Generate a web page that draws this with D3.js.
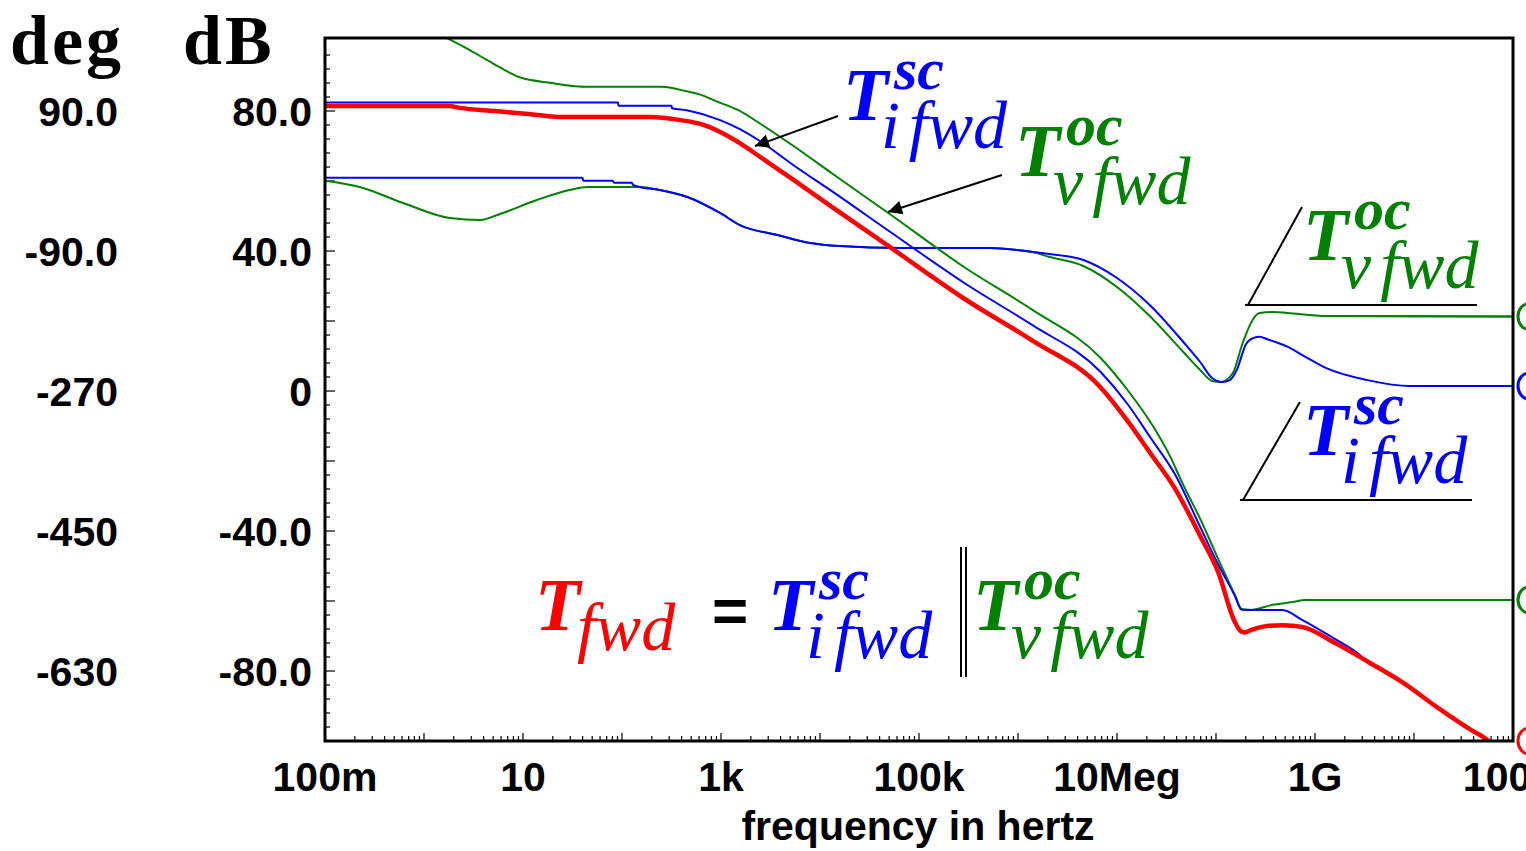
<!DOCTYPE html>
<html><head><meta charset="utf-8">
<script src="https://cdn.jsdelivr.net/npm/d3@7"></script>
<style>html,body{margin:0;padding:0;background:#fff;overflow:hidden}</style>
</head><body><svg id="c" width="1526" height="851"></svg>
<script>
// ---------- data ----------
const xTickValues = [1e-1, 1e1, 1e3, 1e5, 1e7, 1e9, 1e11];
const xTickLabels = ["100m", "10", "1k", "100k", "10Meg", "1G", "100G"];
const dbTickValues = [80, 40, 0, -40, -80];
const dbTickLabels = ["80.0", "40.0", "0", "-40.0", "-80.0"];
const degTickValues = [90, -90, -270, -450, -630];
const degTickLabels = ["90.0", "-90.0", "-270", "-450", "-630"];

// [frequency Hz, dB]
const magTfwd = [[0.1,81.4],[1.8,81.4],[2.3,80.9],[5.2,80.0],[12,79.1],[23,78.3],[190,78.3],[390,77.4],[620,76.3],[980,74.0],[1550,70.8],[2450,67],[5400,60.3],[13500,52.4],[51000,41.1],[3.0e5,26],[1.4e6,14.4],[6.8e6,1.1],[1.26e7,-8.3],[2.2e7,-18],[3.8e7,-27.6],[7.1e7,-42],[1.05e8,-51.7],[1.55e8,-66],[1.78e8,-68.6],[1.95e8,-69],[2.24e8,-68.3],[2.9e8,-67.4],[4.7e8,-66.9],[7.4e8,-67.4],[1.6e9,-72],[3.6e9,-77.7],[7.8e9,-83.4],[1.7e10,-90.3],[3.8e10,-96.9],[5.1e10,-99],[6.3e10,-101]];
const magTisc = [[0.1,82.4],[91,82.4],[92,81.5],[316,81.5],[320,80.8],[450,80.2],[980,77.4],[1550,74.8],[2450,71.5],[5400,64.5],[13500,56.9],[51000,45.5],[3.0e5,30.5],[1.4e6,18.8],[6.8e6,5.5],[1.26e7,-3.5],[2.2e7,-13.5],[3.8e7,-23.5],[7.1e7,-39.5],[1.05e8,-49.5],[1.55e8,-58.5],[1.82e8,-62.5],[4.7e8,-62.6],[7.4e8,-65.4],[1.6e9,-70.9],[2.4e9,-73.9],[3.6e9,-77.7],[7.8e9,-83.4],[1.7e10,-90.3],[3.8e10,-96.9],[5.1e10,-99],[6.3e10,-101]];
const magTvoc = [[0.1,123],[1.7,100.9],[2.9,97.4],[4.9,93.7],[9.1,89.7],[19.5,88],[46,86.9],[250,86.9],[440,85.7],[630,84.6],[930,82.6],[1480,80.3],[2450,76.5],[5400,70],[13500,62],[51000,50.5],[3.0e5,35],[1.4e6,23.2],[6.8e6,9.5],[1.26e7,0.5],[2.34e7,-10.3],[3.47e7,-18.9],[4.47e7,-25.7],[7.08e7,-37.1],[1.12e8,-49.7],[1.55e8,-58.3],[1.82e8,-62.3],[2.2e8,-62.6],[3.7e8,-61.1],[5.9e8,-60.3],[8.0e8,-59.7],[1e11,-59.7]];
// [frequency Hz, degrees]
const phaseTisc = [[0.1,4.2],[39.8,4.2],[40.7,0.4],[81,0.4],[83,-2.2],[126,-2.2],[129,-5.1],[151,-7.7],[240,-11.6],[457,-20.6],[977,-41.1],[1550,-56.6],[3720,-69.4],[7940,-79.7],[15800,-83.6],[64600,-86.1],[525000,-86.1],[977000,-88.7],[1.41e6,-91.3],[2.09e6,-93.9],[4.57e6,-101.6],[1e7,-124.7],[2.14e7,-159.4],[4.68e7,-207],[6.92e7,-232.7],[9.12e7,-253.3],[1.15e8,-258.4],[1.38e8,-255.9],[1.62e8,-243],[2.04e8,-208.3],[2.57e8,-200.6],[2.75e8,-200.2],[3.31e8,-203.5],[5.25e8,-213],[8.0e8,-226],[1.32e9,-241],[3.39e9,-256],[9.1e9,-263.6],[1e11,-263.6]];
const phaseTvoc = [[0.1,0.4],[0.224,-7.7],[0.617,-28.3],[1.82,-47.6],[3.72,-50.1],[5.5,-43.7],[13.8,-24.4],[29.5,-11.6],[44.7,-7.7],[151,-7.7],[240,-11.6],[457,-20.6],[977,-41.1],[1550,-56.6],[3720,-69.4],[7940,-79.7],[15800,-83.6],[64600,-86.1],[525000,-86.1],[977000,-88.7],[1.41e6,-91.3],[2.09e6,-97.7],[4.57e6,-109.3],[1e7,-136.3],[2.14e7,-173.6],[4.68e7,-219.9],[6.92e7,-243],[9.12e7,-257.1],[1.12e8,-258.4],[1.48e8,-246.9],[1.86e8,-208.3],[2.34e8,-178.7],[2.75e8,-169.7],[3.8e8,-168.4],[5.25e8,-169.7],[1.32e9,-173.6],[1e11,-174.2]];

// ---------- setup ----------
const RED = "#ff0000", BLUE = "#0000ff", GREEN = "#008000";
const svg = d3.select("#c");
const L = 325, R = 1513, T = 38, B = 741;
const x = d3.scaleLog().domain([0.1, 1e11]).range([L, R]);
const yDb = d3.scaleLinear().domain([-100, 100.86]).range([B, T]);
const yDeg = d3.scaleLinear().domain([-720, 183.87]).range([B, T]);
const P = (lf, db) => [x(Math.pow(10, lf)), yDb(db)];

svg.append("defs").append("clipPath").attr("id", "clip")
  .append("rect").attr("x", L).attr("y", T).attr("width", R - L).attr("height", B - T);
const mk = svg.select("defs").append("marker").attr("id", "arr")
  .attr("viewBox", "0 0 10 10").attr("refX", 10).attr("refY", 5)
  .attr("markerWidth", 18).attr("markerHeight", 14).attr("markerUnits", "userSpaceOnUse")
  .attr("orient", "auto");
mk.append("path").attr("d", "M0,0 L10,5 L0,10 z").attr("fill", "#000");

// ticks on left edge (every 4 dB, longer each 20 dB)
const yt = d3.range(-96, 100, 4);
svg.append("g").selectAll("line").data(yt).join("line")
  .attr("x1", L).attr("x2", d => L + (d % 20 === 0 ? 10 : 5))
  .attr("y1", d => yDb(d)).attr("y2", d => yDb(d))
  .attr("stroke", "#000").attr("stroke-width", 1.2);
// ticks on bottom edge (log minor)
const xt = [];
for (let e = -1; e <= 10; e++) for (let m = 1; m <= 9; m++) { const v = m * Math.pow(10, e); if (v > 0.1 && v < 1e11) xt.push([v, m === 1]); }
svg.append("g").selectAll("line").data(xt).join("line")
  .attr("x1", d => x(d[0])).attr("x2", d => x(d[0]))
  .attr("y1", B).attr("y2", d => B - (d[1] ? 8 : 5))
  .attr("stroke", "#000").attr("stroke-width", 1.2);

// lines
const line = yS => d3.line().x(d => x(d[0])).y(d => yS(d[1])).curve(d3.curveMonotoneX);
const gl = svg.append("g").attr("clip-path", "url(#clip)").attr("fill", "none");
gl.append("path").datum(phaseTvoc).attr("d", line(yDeg)).attr("stroke", GREEN).attr("stroke-width", 2);
gl.append("path").datum(phaseTisc).attr("d", line(yDeg)).attr("stroke", BLUE).attr("stroke-width", 2);
gl.append("path").datum(magTvoc).attr("d", line(yDb)).attr("stroke", GREEN).attr("stroke-width", 2);
gl.append("path").datum(magTisc).attr("d", line(yDb)).attr("stroke", BLUE).attr("stroke-width", 2);
gl.append("path").datum(phaseTvoc.filter(d => d[0] >= 1e9)).attr("d", line(yDeg)).attr("stroke", GREEN).attr("stroke-width", 2);
gl.append("path").datum(magTfwd).attr("d", line(yDb)).attr("stroke", RED).attr("stroke-width", 4.5);

// frame
svg.append("rect").attr("x", L).attr("y", T).attr("width", R - L).attr("height", B - T)
  .attr("fill", "none").attr("stroke", "#000").attr("stroke-width", 3);

// end markers
const ends = [
  [yDeg(phaseTvoc[phaseTvoc.length - 1][1]), GREEN],
  [yDeg(phaseTisc[phaseTisc.length - 1][1]), BLUE],
  [yDb(magTvoc[magTvoc.length - 1][1]), GREEN],
  [yDb(Math.max(-100, magTfwd[magTfwd.length - 1][1])), RED]];
svg.append("g").selectAll("ellipse").data(ends).join("ellipse")
  .attr("cx", R + 16).attr("cy", d => d[0]).attr("rx", 11).attr("ry", 13)
  .attr("fill", "#fff").attr("stroke", d => d[1]).attr("stroke-width", 3);

// axis labels
const sans = "'Liberation Sans', Arial, sans-serif";
svg.append("g").selectAll("text").data(dbTickValues).join("text")
  .attr("x", 312).attr("y", d => yDb(d) + 15).attr("text-anchor", "end")
  .attr("font-family", sans).attr("font-weight", "bold").attr("font-size", 41)
  .text((d, i) => dbTickLabels[i]);
svg.append("g").selectAll("text").data(degTickValues).join("text")
  .attr("x", 118).attr("y", d => yDeg(d) + 15).attr("text-anchor", "end")
  .attr("font-family", sans).attr("font-weight", "bold").attr("font-size", 41)
  .text((d, i) => degTickLabels[i]);
svg.append("g").selectAll("text").data(xTickValues).join("text")
  .attr("x", d => x(d)).attr("y", 791).attr("text-anchor", "middle")
  .attr("font-family", sans).attr("font-weight", "bold").attr("font-size", 41)
  .text((d, i) => xTickLabels[i]);
svg.append("text").attr("x", 918).attr("y", 840).attr("text-anchor", "middle")
  .attr("font-family", sans).attr("font-weight", "bold").attr("font-size", 41)
  .text("frequency in hertz");
const serif = "'Liberation Serif', 'Times New Roman', serif";
svg.append("text").attr("x", 10).attr("y", 64).attr("font-family", serif)
  .attr("font-weight", "bold").attr("font-size", 70).attr("letter-spacing", 3).text("deg");
svg.append("text").attr("x", 183).attr("y", 64).attr("font-family", serif)
  .attr("font-weight", "bold").attr("font-size", 70).attr("letter-spacing", 3).text("dB");

// math labels: one text element per label, with positioned tspans
function mathLabel(pt, color, sup, subA, subB, subDx, subDy) {
  const t = svg.append("text").attr("fill", color).attr("font-family", serif).attr("font-style", "italic")
    .attr("x", pt[0]).attr("y", pt[1]);
  t.append("tspan").attr("font-weight", "bold").attr("font-size", 74).text("T");
  if (sup) t.append("tspan").attr("x", pt[0] + 51).attr("y", pt[1] - 31)
    .attr("font-weight", "bold").attr("font-size", 60).text(sup);
  const sx = pt[0] + (subDx ?? 38), sy = pt[1] + (subDy ?? 28);
  if (subA) {
    t.append("tspan").attr("x", sx).attr("y", sy).attr("font-size", 68).text(subA);
    t.append("tspan").attr("dx", 9).attr("font-size", 68).text(subB);
  } else {
    t.append("tspan").attr("x", sx).attr("y", sy).attr("font-size", 68).text(subB);
  }
}
mathLabel(P(4.232, 77.43), BLUE, "sc", "i", "fwd");
mathLabel(P(5.970, 61.43), GREEN, "oc", "v", "fwd");
mathLabel(P(8.879, 37.43), GREEN, "oc", "v", "fwd");
mathLabel(P(8.879, -18.29), BLUE, "sc", "i", "fwd");
mathLabel(P(1.121, -68.29), RED, null, null, "fwd", 42, 20);
mathLabel(P(3.475, -68.29), BLUE, "sc", "i", "fwd");
mathLabel(P(5.545, -68.29), GREEN, "oc", "v", "fwd");
const eq = P(2.909, -68.86);
svg.append("text").attr("x", eq[0]).attr("y", eq[1]).attr("font-family", sans).attr("font-weight", "bold")
  .attr("font-size", 62).text("=");

// annotation strokes
const segs = [
  [P(5.424, -44.57), P(5.424, -81.71)], [P(5.475, -44.57), P(5.475, -81.71)],
  [P(8.869, 52.57), P(8.323, 24.57)], [P(8.293, 24.57), P(10.636, 24.57)],
  [P(8.848, -3.14), P(8.273, -31.14)], [P(8.242, -31.14), P(10.586, -31.14)]];
svg.append("g").selectAll("line").data(segs).join("line")
  .attr("x1", d => d[0][0]).attr("y1", d => d[0][1]).attr("x2", d => d[1][0]).attr("y2", d => d[1][1])
  .attr("stroke", "#000").attr("stroke-width", 2);
const arrows = [[P(4.182, 78.57), P(3.343, 70.0)], [P(5.838, 61.71), P(4.687, 51.14)]];
svg.append("g").selectAll("line").data(arrows).join("line")
  .attr("x1", d => d[0][0]).attr("y1", d => d[0][1]).attr("x2", d => d[1][0]).attr("y2", d => d[1][1])
  .attr("stroke", "#000").attr("stroke-width", 2).attr("marker-end", "url(#arr)");
</script></body></html>
